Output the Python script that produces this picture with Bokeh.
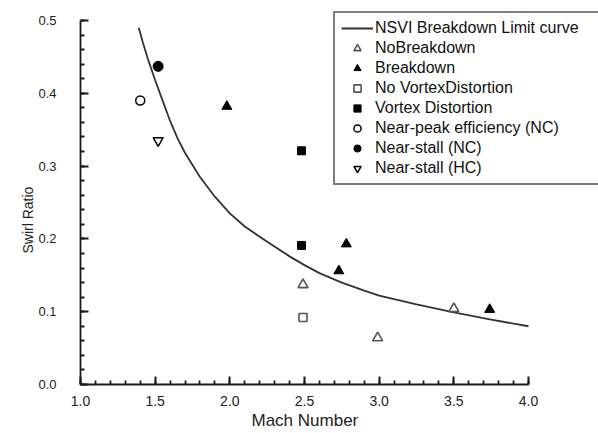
from bokeh.plotting import figure
from bokeh.models import (Range1d, FixedTicker, Legend, LegendItem, Title)
from bokeh.embed import file_html
from bokeh.resources import INLINE

# NSVI breakdown limit curve (Mach number vs swirl ratio)
curve_mach = [1.39, 1.42, 1.45, 1.50, 1.55, 1.60, 1.65, 1.70, 1.80, 1.90, 2.00, 2.10,
              2.25, 2.40, 2.50, 2.60, 2.75, 2.90, 3.00, 3.25, 3.50, 3.75, 4.00]
curve_swirl = [0.490, 0.468, 0.448, 0.418, 0.390, 0.362, 0.338, 0.318, 0.285, 0.258, 0.235, 0.217,
               0.196, 0.176, 0.164, 0.153, 0.140, 0.129, 0.122, 0.110, 0.099, 0.089, 0.080]

# Measured cases
no_breakdown_mach = [2.49, 2.99, 3.50]
no_breakdown_swirl = [0.137, 0.064, 0.104]

breakdown_mach = [1.98, 2.73, 2.78, 3.74]
breakdown_swirl = [0.382, 0.156, 0.193, 0.103]

no_distortion_mach = [2.49]
no_distortion_swirl = [0.092]

distortion_mach = [2.48, 2.48]
distortion_swirl = [0.321, 0.191]

near_peak_nc_mach = [1.40]
near_peak_nc_swirl = [0.390]

near_stall_nc_mach = [1.52]
near_stall_nc_swirl = [0.437]

near_stall_hc_mach = [1.52]
near_stall_hc_swirl = [0.335]

x_ticks = [1.0, 1.5, 2.0, 2.5, 3.0, 3.5, 4.0]
x_tick_labels = ["1.0", "1.5", "2.0", "2.5", "3.0", "3.5", "4.0"]
x_minor_ticks = [round(1.0 + 0.1 * i, 2) for i in range(31)]
y_ticks = [0.0, 0.1, 0.2, 0.3, 0.4, 0.5]
y_tick_labels = ["0.0", "0.1", "0.2", "0.3", "0.4", "0.5"]
y_minor_ticks = [round(0.02 * i, 2) for i in range(26)]

FONT = "Liberation Sans"
AXIS_COLOR = "#1a1a1a"

# The axes span 1.0-4.0 and 0.0-0.5; the frame itself reaches the right and
# top edges so that the legend box can overhang the axes.
W, H = 598, 433
LEFT, BOTTOM = 80, 49
X_PX = 448.0 / 3.0          # pixels per Mach unit
Y_PX = 364.0 / 0.5          # pixels per swirl-ratio unit
x_end = 1.0 + (W - LEFT) / X_PX
y_end = (H - BOTTOM) / Y_PX

p = figure(width=W, height=H, output_backend="svg", toolbar_location=None,
           x_range=Range1d(1.0, x_end), y_range=Range1d(0.0, y_end),
           min_border_left=LEFT, min_border_right=0, min_border_top=0,
           min_border_bottom=BOTTOM)
p.outline_line_color = None
p.grid.visible = False
p.background_fill_color = None   # leaves the inward ticks uncovered

p.xaxis.ticker = FixedTicker(ticks=x_ticks, minor_ticks=x_minor_ticks)
p.yaxis.ticker = FixedTicker(ticks=y_ticks, minor_ticks=y_minor_ticks)
p.xaxis.bounds = (1.0, 4.0)
p.yaxis.bounds = (0.0, 0.5)
p.xaxis.major_label_overrides = {t: s for t, s in zip(x_ticks, x_tick_labels)}
p.yaxis.major_label_overrides = {t: s for t, s in zip(y_ticks, y_tick_labels)}

p.axis.axis_line_color = AXIS_COLOR
p.axis.axis_line_width = 1.8
p.axis.major_tick_line_color = AXIS_COLOR
p.axis.minor_tick_line_color = AXIS_COLOR
p.axis.major_tick_line_width = 2
p.axis.minor_tick_line_width = 1.8
p.axis.major_tick_in = 8
p.axis.major_tick_out = 0
p.axis.minor_tick_in = 4
p.axis.minor_tick_out = 0
p.axis.major_label_text_font = FONT
p.axis.major_label_text_color = "#222222"

p.xaxis.major_label_text_font_size = "14px"
p.yaxis.major_label_text_font_size = "13px"
p.xaxis.major_label_standoff = 11
p.yaxis.major_label_standoff = 24

# Axis titles, centred on the 1.0-4.0 / 0.0-0.5 spans
x_title = Title(text="Mach Number", align="left", offset=171, standoff=1,
                text_font=FONT, text_font_size="17px", text_font_style="normal",
                text_color="#222222")
y_title = Title(text="Swirl Ratio", align="left", offset=131, standoff=0,
                text_font=FONT, text_font_size="14px", text_font_style="normal",
                text_color="#222222")
p.add_layout(x_title, "below")
p.add_layout(y_title, "left")

r_curve = p.line(curve_mach, curve_swirl, line_color="#333333", line_width=1.8)

open_grey = "#555555"
r_nb = p.scatter(no_breakdown_mach, no_breakdown_swirl, marker="triangle", size=10,
                 fill_color="white", line_color=open_grey, line_width=1.6)
r_bd = p.scatter(breakdown_mach, breakdown_swirl, marker="triangle", size=10,
                 fill_color="black", line_color="black", line_width=1)
r_nvd = p.scatter(no_distortion_mach, no_distortion_swirl, marker="square", size=8,
                  fill_color="white", line_color=open_grey, line_width=1.6)
r_vd = p.scatter(distortion_mach, distortion_swirl, marker="square", size=8,
                 fill_color="black", line_color="black", line_width=1)
r_npe = p.scatter(near_peak_nc_mach, near_peak_nc_swirl, marker="circle", size=9,
                  fill_color="white", line_color="black", line_width=1.5)
r_nsnc = p.scatter(near_stall_nc_mach, near_stall_nc_swirl, marker="circle", size=10,
                   fill_color="black", line_color="black", line_width=1)
r_nshc = p.scatter(near_stall_hc_mach, near_stall_hc_swirl, marker="inverted_triangle", size=10,
                   fill_color="white", line_color="black", line_width=1.5)

legend = Legend(items=[
    LegendItem(label="NSVI Breakdown Limit curve", renderers=[r_curve]),
    LegendItem(label="NoBreakdown", renderers=[r_nb]),
    LegendItem(label="Breakdown", renderers=[r_bd]),
    LegendItem(label="No VortexDistortion", renderers=[r_nvd]),
    LegendItem(label="Vortex Distortion", renderers=[r_vd]),
    LegendItem(label="Near-peak efficiency (NC)", renderers=[r_npe]),
    LegendItem(label="Near-stall (NC)", renderers=[r_nsnc]),
    LegendItem(label="Near-stall (HC)", renderers=[r_nshc]),
], location=(253, 199))
legend.border_line_color = "black"
legend.border_line_width = 2
legend.background_fill_color = "white"
legend.background_fill_alpha = 1.0
legend.label_text_font = FONT
legend.label_text_font_size = "16px"
legend.label_text_color = "#111111"
legend.glyph_width = 32
legend.glyph_height = 18
legend.label_height = 18
legend.label_width = 218
legend.label_standoff = 2
legend.spacing = 2
legend.padding = 6
legend.margin = 0
p.add_layout(legend, "center")

open("out.html", "w").write(file_html(p, INLINE))
